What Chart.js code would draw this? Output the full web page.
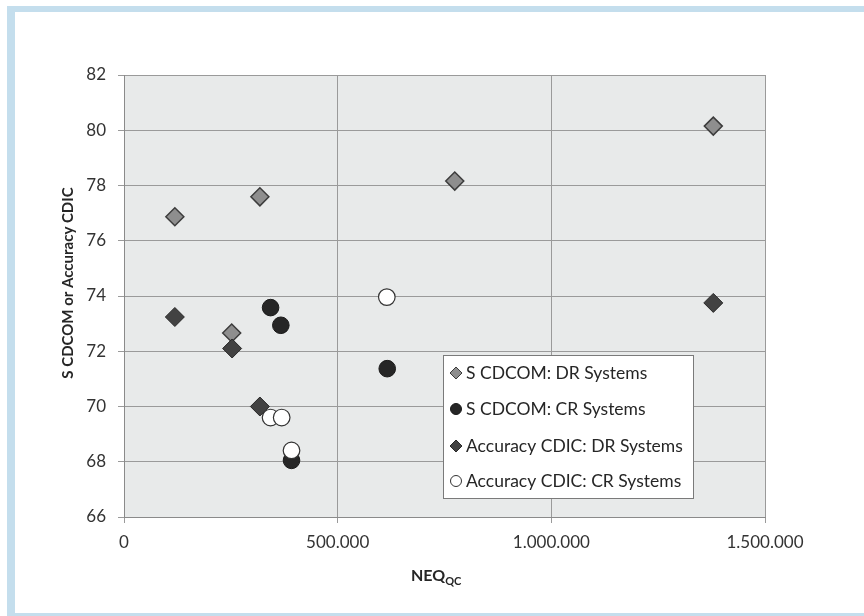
<!DOCTYPE html>
<html>
<head>
<meta charset="utf-8">
<script src="https://cdn.jsdelivr.net/npm/chart.js@4/dist/chart.umd.min.js"></script>
<style>
  html, body { margin: 0; padding: 0; background: #ffffff; }
  #wrap { position: absolute; left: 0; top: 0; width: 864px; height: 616px; }
</style>
</head>
<body>
<div id="wrap"><canvas id="neqChart" width="864" height="616"></canvas></div>
<script>
// series labels
var seriesNames = [
    'S CDCOM: DR Systems',
    'S CDCOM: CR Systems',
    'Accuracy CDIC: DR Systems',
    'Accuracy CDIC: CR Systems'
];

// NEQqc values (x) and scores (y)
var sDrNeq = [119000, 318000, 252000, 774000, 1379000];
var sDrVal = [76.87, 77.59, 72.66, 78.16, 80.15];

var sCrNeq = [343000, 367000, 616000, 392000];
var sCrVal = [73.58, 72.94, 71.37, 68.05];

var accDrNeq = [119000, 253000, 318000, 1379000];
var accDrVal = [73.24, 72.10, 70.00, 73.75];

var accCrNeq = [343000, 369000, 392000, 615000];
var accCrVal = [69.60, 69.60, 68.41, 73.96];

// axis ticks
var xTicks = [0, 500000, 1000000, 1500000];
var yTicks = [66, 68, 70, 72, 74, 76, 78, 80, 82];

function toPoints(xs, ys){
    var pts = [];
    for (var i = 0; i < xs.length; i++) {
        pts.push({x: xs[i], y: ys[i]});
    }
    return pts;
}

function dotted(v){
    return String(v).replace(/\B(?=(\d{3})+(?!\d))/g, '.');
}

var FONT = 'Lato, "DejaVu Sans", sans-serif';

// blue frame + grey plot background
var backgroundPlugin = {
    id: 'background',
    beforeDraw: function(chart){
        var ctx = chart.ctx;
        var a = chart.chartArea;
        ctx.save();
        ctx.fillStyle = '#ffffff';
        ctx.fillRect(0, 0, chart.width, chart.height);
        ctx.fillStyle = '#c4deed';
        ctx.fillRect(7, 6, chart.width - 7, 6);     // top band
        ctx.fillRect(7, 6, 8, chart.height - 6);    // left band
        ctx.fillRect(7, 613, chart.width - 7, 3);   // bottom band
        ctx.fillStyle = '#e8eaea';
        ctx.fillRect(a.left, a.top, a.right - a.left, a.bottom - a.top);
        ctx.restore();
    }
};

// axis titles (x title needs a subscript) and boxed legend inside the plot
var decorPlugin = {
    id: 'decor',
    afterDraw: function(chart){
        var ctx = chart.ctx;
        ctx.save();

        // y title
        ctx.fillStyle = '#262626';
        ctx.font = 'bold 15px ' + FONT;
        ctx.textAlign = 'center';
        ctx.textBaseline = 'middle';
        ctx.translate(68, 283);
        ctx.rotate(-Math.PI / 2);
        ctx.fillText('S CDCOM or Accuracy CDIC', 0, 0);
        ctx.setTransform(1, 0, 0, 1, 0, 0);

        // x title NEQ_QC
        ctx.textAlign = 'left';
        ctx.textBaseline = 'alphabetic';
        ctx.font = 'bold 16px ' + FONT;
        ctx.fillText('NEQ', 411, 581);
        var w = ctx.measureText('NEQ').width;
        ctx.font = 'bold 11px ' + FONT;
        ctx.fillText('QC', 411 + w, 585);

        // legend box
        var lx = 443, ly = 355, lw = 250, lh = 143;
        ctx.fillStyle = '#ffffff';
        ctx.fillRect(lx, ly, lw, lh);
        ctx.strokeStyle = '#7a7a7a';
        ctx.lineWidth = 1;
        ctx.strokeRect(lx + 0.5, ly + 0.5, lw, lh);

        ctx.font = '17.5px ' + FONT;
        ctx.textBaseline = 'middle';
        var rows = [373, 409, 446, 481];
        chart.data.datasets.forEach(function(ds, i){
            ctx.fillStyle = ds.backgroundColor;
            ctx.strokeStyle = ds.borderColor;
            ctx.lineWidth = 1;
            ctx.beginPath();
            if (ds.pointStyle === 'circle') {
                ctx.arc(456, rows[i], 5.5, 0, Math.PI * 2);
            } else {
                ctx.moveTo(450, rows[i]);
                ctx.lineTo(456, rows[i] - 6);
                ctx.lineTo(462, rows[i]);
                ctx.lineTo(456, rows[i] + 6);
                ctx.closePath();
            }
            ctx.fill();
            ctx.stroke();
            ctx.fillStyle = '#262626';
            ctx.fillText(ds.label, 466, rows[i]);
        });

        ctx.restore();
    }
};

function createChart(){
    var ctx = document.getElementById('neqChart').getContext('2d');
    var data = {
        datasets: [{
            label: seriesNames[0],
            data: toPoints(sDrNeq, sDrVal),
            pointStyle: 'rectRot',
            pointRadius: 9,
            backgroundColor: '#8e8e8e',
            borderColor: '#3c3c3c',
            borderWidth: 1.5,
            order: 3
        }, {
            label: seriesNames[1],
            data: toPoints(sCrNeq, sCrVal),
            pointStyle: 'circle',
            pointRadius: 8.3,
            backgroundColor: '#262626',
            borderColor: '#1a1a1a',
            borderWidth: 1,
            order: 2
        }, {
            label: seriesNames[2],
            data: toPoints(accDrNeq, accDrVal),
            pointStyle: 'rectRot',
            pointRadius: 9.5,
            backgroundColor: '#424242',
            borderColor: '#2a2a2a',
            borderWidth: 1,
            order: 1
        }, {
            label: seriesNames[3],
            data: toPoints(accCrNeq, accCrVal),
            pointStyle: 'circle',
            pointRadius: 8.3,
            backgroundColor: '#ffffff',
            borderColor: '#333333',
            borderWidth: 1.2,
            order: 0
        }]
    };

    return new Chart(ctx, {
        type: 'scatter',
        data: data,
        plugins: [backgroundPlugin, decorPlugin],
        options: {
            responsive: false,
            animation: false,
            layout: { padding: { left: 59, top: 75, right: 99, bottom: 0 } },
            plugins: {
                legend: { display: false },
                tooltip: { enabled: false }
            },
            scales: {
                x: {
                    type: 'linear',
                    min: 0,
                    max: 1500000,
                    afterFit: function(scale){ scale.height = 99; },
                    afterBuildTicks: function(scale){
                        scale.ticks = xTicks.map(function(v){ return {value: v}; });
                    },
                    ticks: {
                        padding: 9,
                        color: '#333333',
                        font: { family: FONT, size: 17 },
                        callback: function(v){ return dotted(v); }
                    },
                    grid: { color: '#9a9a9a', tickColor: '#9a9a9a', tickLength: 6 },
                    border: { color: '#8a8a8a' }
                },
                y: {
                    min: 66,
                    max: 82,
                    afterFit: function(scale){ scale.width = 65; },
                    afterBuildTicks: function(scale){
                        scale.ticks = yTicks.map(function(v){ return {value: v}; });
                    },
                    ticks: {
                        padding: 12,
                        color: '#333333',
                        font: { family: FONT, size: 17 }
                    },
                    grid: { color: '#9a9a9a', tickColor: '#9a9a9a', tickLength: 6 },
                    border: { color: '#8a8a8a' }
                }
            }
        }
    });
}

var neqChart = createChart();
</script>
</body>
</html>
